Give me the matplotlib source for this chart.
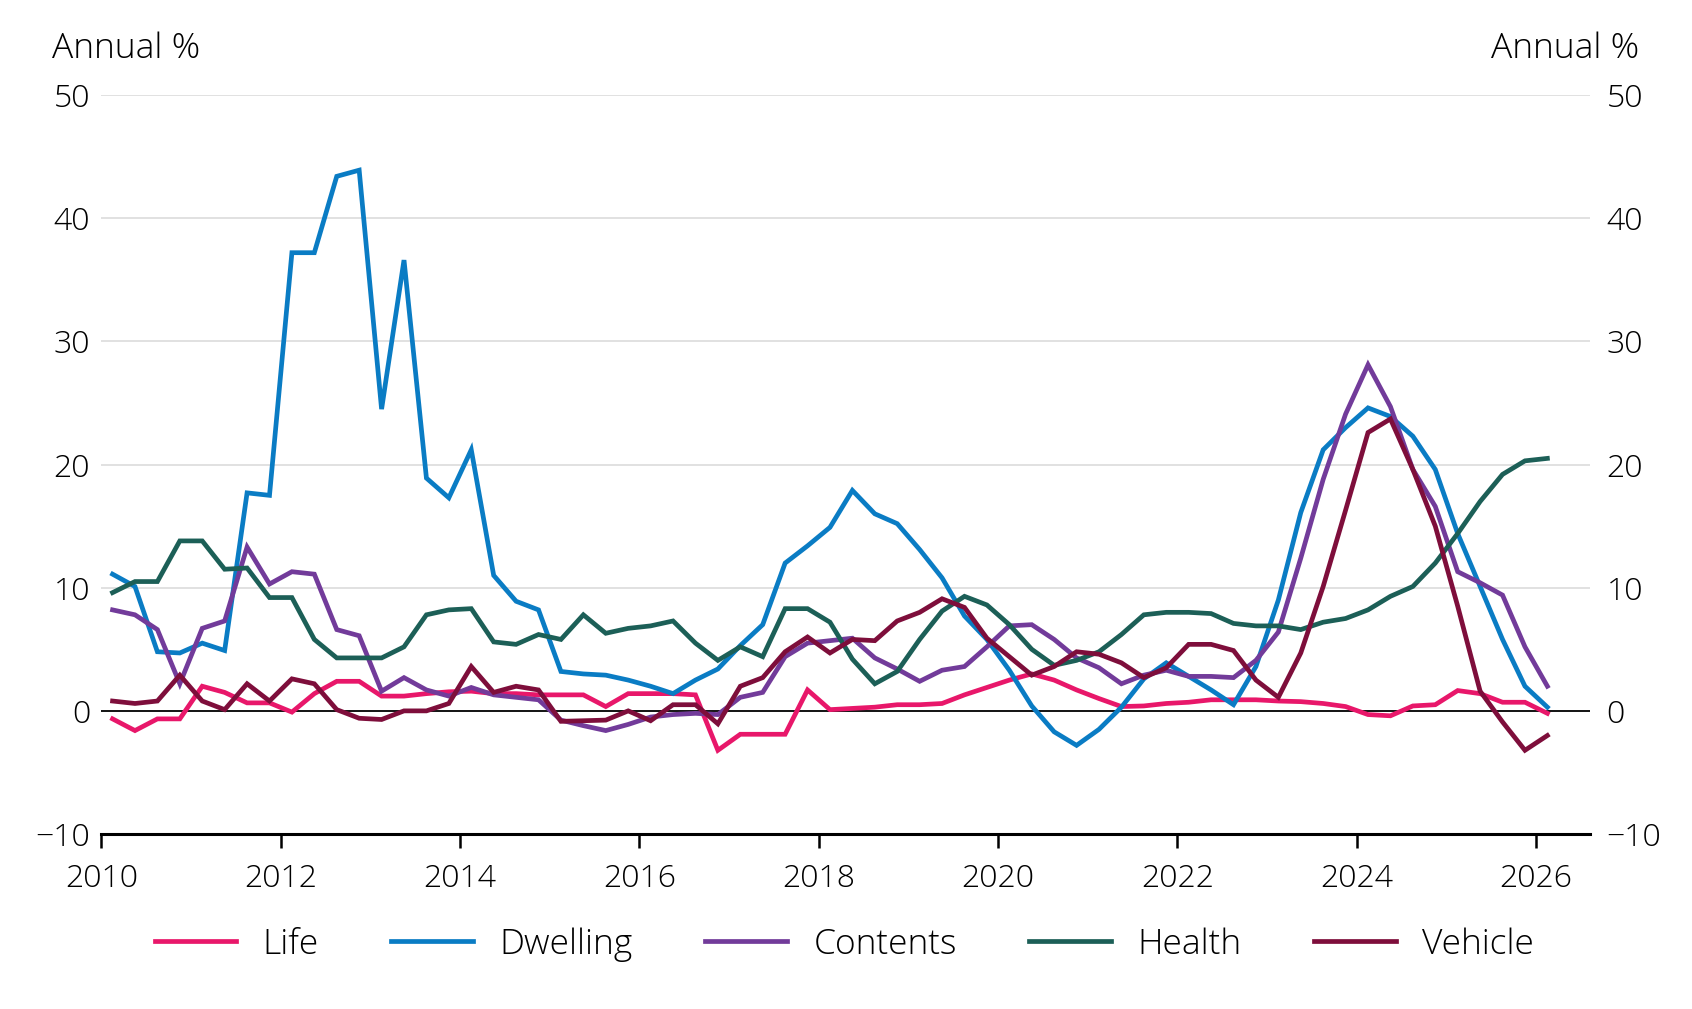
import numpy as np
import pandas as pd
import matplotlib
matplotlib.use("Agg")
import matplotlib.pyplot as plt

plt.rcParams["font.family"] = ["Open Sans", "DejaVu Sans"]
plt.rcParams["font.weight"] = "light"

# ---- data: annual % change, quarterly 2010Q1 .. 2026Q1 ----
quarters = pd.period_range("2010Q1", "2026Q1", freq="Q")

life = [-0.65, -1.6, -0.65, -0.65, 2.0, 1.5, 0.65, 0.65, -0.1, 1.4,
        2.4, 2.4, 1.2, 1.2, 1.4, 1.55, 1.6, 1.4, 1.4, 1.3,
        1.3, 1.3, 0.35, 1.4, 1.4, 1.4, 1.3, -3.2, -1.9, -1.9,
        -1.9, 1.7, 0.1, 0.2, 0.3, 0.5, 0.5, 0.6, 1.3, 1.9,
        2.5, 3.0, 2.5, 1.7, 1.0, 0.35, 0.4, 0.6, 0.7, 0.9,
        0.9, 0.9, 0.8, 0.75, 0.6, 0.35, -0.3, -0.4, 0.4, 0.5,
        1.65, 1.4, 0.7, 0.7, -0.2]
dwelling = [11.1, 10.1, 4.8, 4.7, 5.5, 4.9, 17.7, 17.5, 37.2, 37.2,
            43.4, 43.9, 24.5, 36.6, 18.9, 17.3, 21.2, 11.0, 8.9, 8.2,
            3.2, 3.0, 2.9, 2.5, 2.0, 1.4, 2.5, 3.4, 5.3, 7.0,
            12.0, 13.4, 14.9, 17.9, 16.0, 15.2, 13.1, 10.8, 7.7, 5.8,
            3.3, 0.4, -1.7, -2.8, -1.5, 0.3, 2.6, 3.9, 2.8, 1.7,
            0.5, 3.6, 9.0, 16.1, 21.2, 23.0, 24.6, 23.9, 22.3, 19.6,
            14.4, 10.1, 5.8, 2.0, 0.3]
contents = [8.2, 7.8, 6.6, 2.2, 6.7, 7.3, 13.3, 10.3, 11.3, 11.1,
            6.6, 6.1, 1.6, 2.7, 1.7, 1.2, 1.9, 1.3, 1.1, 0.9,
            -0.75, -1.2, -1.6, -1.1, -0.5, -0.3, -0.2, -0.3, 1.1, 1.5,
            4.4, 5.5, 5.7, 5.9, 4.3, 3.4, 2.4, 3.3, 3.6, 5.2,
            6.9, 7.0, 5.8, 4.3, 3.5, 2.2, 2.9, 3.3, 2.8, 2.8,
            2.7, 4.1, 6.4, 12.4, 18.8, 24.1, 28.1, 24.7, 19.6, 16.6,
            11.3, 10.4, 9.4, 5.2, 2.0]
health = [9.6, 10.5, 10.5, 13.8, 13.8, 11.5, 11.6, 9.2, 9.2, 5.8,
          4.3, 4.3, 4.3, 5.2, 7.8, 8.2, 8.3, 5.6, 5.4, 6.2,
          5.8, 7.8, 6.3, 6.7, 6.9, 7.3, 5.5, 4.1, 5.2, 4.4,
          8.3, 8.3, 7.2, 4.2, 2.2, 3.2, 5.8, 8.1, 9.3, 8.6,
          7.0, 5.0, 3.7, 4.1, 4.8, 6.2, 7.8, 8.0, 8.0, 7.9,
          7.1, 6.9, 6.9, 6.6, 7.2, 7.5, 8.2, 9.3, 10.1, 12.0,
          14.4, 17.0, 19.2, 20.3, 20.5]
vehicle = [0.8, 0.6, 0.8, 2.9, 0.8, 0.1, 2.2, 0.8, 2.6, 2.2,
           0.1, -0.6, -0.7, 0.0, 0.0, 0.6, 3.6, 1.5, 2.0, 1.7,
           -0.85, -0.8, -0.75, 0.0, -0.8, 0.5, 0.5, -1.05, 2.0, 2.7,
           4.8, 6.0, 4.7, 5.8, 5.7, 7.3, 8.0, 9.1, 8.4, 5.9,
           4.4, 2.9, 3.6, 4.8, 4.6, 3.9, 2.7, 3.5, 5.4, 5.4,
           4.9, 2.5, 1.1, 4.7, 10.1, 16.3, 22.6, 23.7, 19.6, 15.0,
           8.5, 1.6, -0.9, -3.2, -2.0]

series = [("Life", life, "#e8176a"),
          ("Dwelling", dwelling, "#0a7cc4"),
          ("Contents", contents, "#723b9a"),
          ("Health", health, "#1c5f57"),
          ("Vehicle", vehicle, "#7e0e3b")]

# mid-quarter position in decimal years
x = np.array([q.year + (q.quarter - 0.5) / 4 for q in quarters])

FS_TICK = 23
FS_TEXT = 25.5
fig = plt.figure(figsize=(16.92, 10.09), dpi=100)
ax = fig.add_axes([0.0599, 0.1734, 0.8798, 0.7324])

for yv in [10, 20, 30, 40, 50]:
    ax.axhline(yv, color="#d9d9d9", lw=1.1, zorder=1)
ax.axhline(0, color="black", lw=1.3, zorder=1.5)

for name, vals, col in series:
    ax.plot(x, vals, color=col, lw=3.4, label=name, zorder=3,
            solid_joinstyle="miter")

ax.set_xlim(2010, 2026.6)
ax.set_ylim(-10, 50)
ax.set_xticks(range(2010, 2027, 2))
ax.set_yticks(range(-10, 51, 10))
for sp in ["left", "right", "top"]:
    ax.spines[sp].set_visible(False)
ax.spines["bottom"].set_linewidth(2.2)
ax.tick_params(axis="x", direction="out", length=10, width=1.8,
               labelsize=FS_TICK, pad=11)
ax.tick_params(axis="y", length=0, labelsize=FS_TICK, pad=8)

ax2 = ax.twinx()
ax2.set_ylim(-10, 50)
ax2.set_yticks(range(-10, 51, 10))
for sp in ax2.spines.values():
    sp.set_visible(False)
ax2.tick_params(axis="y", length=0, labelsize=FS_TICK, pad=12)

fig.text(0.031, 0.952, "Annual %", fontsize=FS_TEXT, ha="left", va="center")
fig.text(0.969, 0.952, "Annual %", fontsize=FS_TEXT, ha="right", va="center")

ax.legend(loc="center", bbox_to_anchor=(0.499, 0.064),
          bbox_transform=fig.transFigure, ncol=5, frameon=False,
          fontsize=FS_TEXT, handlelength=2.3, handletextpad=0.75,
          columnspacing=2.05)

fig.savefig("out.png", dpi=100)
